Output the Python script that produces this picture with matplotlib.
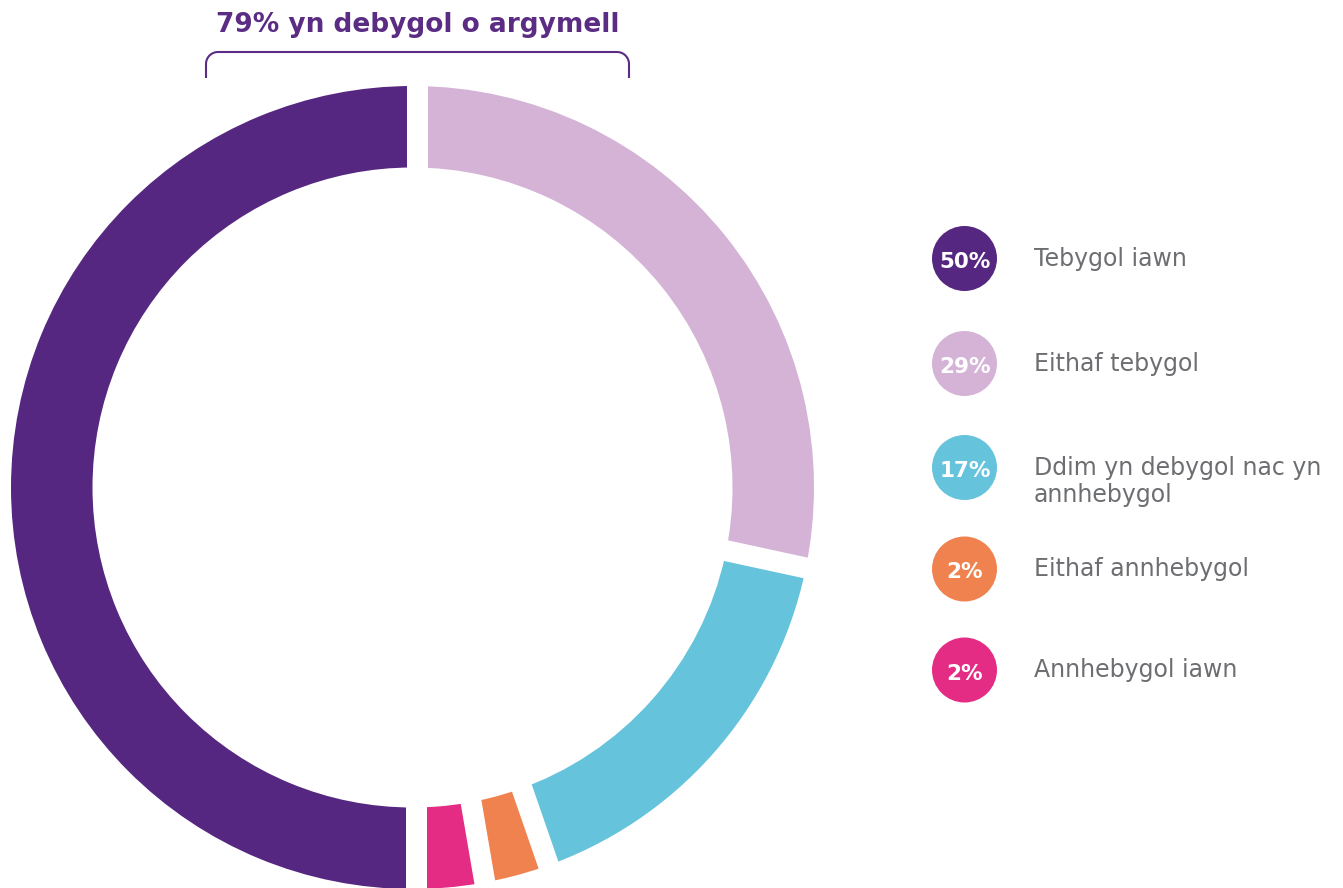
import matplotlib.pyplot as plt
import numpy as np

# survey answers, clockwise from the top (arc sizes as drawn)
labels = ['Eithaf tebygol', 'Ddim yn debygol nac yn\nannhebygol', 'Eithaf annhebygol',
          'Annhebygol iawn', 'Tebygol iawn']
values = [28.4, 16.3, 2.6, 2.7, 50.0]
colors = ['#D5B3D7', '#66C3DC', '#F0824F', '#E42C85', '#562781']

# legend order (top to bottom) and the printed percentages
legend_idx = [4, 0, 1, 2, 3]
legend_pct = ['50%', '29%', '17%', '2%', '2%']
title = '79% yn debygol o argymell'

W, H = 1343, 888
fig = plt.figure(figsize=(W / 100, H / 100), dpi=100)
ax = fig.add_axes([0, 0, 1, 1])

cx, cy = 412.5, H - 487.5
R, ring = 401.5, 81.5
ax.pie(values, colors=colors, startangle=90, counterclock=False,
       center=(cx, cy), radius=R, frame=True,
       wedgeprops=dict(width=ring, linewidth=0))
ax.set_xlim(0, W)
ax.set_ylim(0, H)
ax.axis('off')

# white gaps between the slices
gap_px = 21
px, py = cx + 4, cy + 4
cum = np.concatenate([[0], np.cumsum(values)[:-1]])
for c in cum:
    th = np.deg2rad(90 - 360 * c / sum(values))
    d = np.array([np.cos(th), np.sin(th)])
    seg = np.array([[px, py] + 300 * d, [px, py] + 430 * d])
    ax.plot(seg[:, 0], seg[:, 1], color='white', lw=gap_px * 0.72,
            solid_capstyle='butt')

# title + bracket
purple = '#5B2C83'
ax.text(417.5, H - 32, title, ha='center', va='baseline', fontsize=19,
        fontweight='bold', color=purple)
r = 12
x0, x1, ytop, ybot = 206, 629, H - 52, H - 78
t = np.linspace(np.pi, np.pi / 2, 20)
left_arc = np.c_[x0 + r + r * np.cos(t), ytop - r + r * np.sin(t)]
t2 = np.linspace(np.pi / 2, 0, 20)
right_arc = np.c_[x1 - r + r * np.cos(t2), ytop - r + r * np.sin(t2)]
pts = np.vstack([[x0, ybot], left_arc, right_arc, [x1, ybot]])
ax.plot(pts[:, 0], pts[:, 1], color=purple, lw=1.5, solid_capstyle='butt')

# legend
leg_y = [258.5, 363.5, 467.5, 569, 670]
for k, i in enumerate(legend_idx):
    y = H - leg_y[k]
    ax.add_patch(plt.Circle((964.5, y), 32.5, color=colors[i], lw=0))
    ax.text(965, y - 9.5, legend_pct[k], ha='center', va='baseline', color='white',
            fontsize=15.5, fontweight='bold')
    for j, line in enumerate(labels[i].split('\n')):
        ax.text(1034, y - 7 - 27 * j, line, ha='left', va='baseline',
                color='#6D6E71', fontsize=17)

fig.savefig('out.png', dpi=100)
